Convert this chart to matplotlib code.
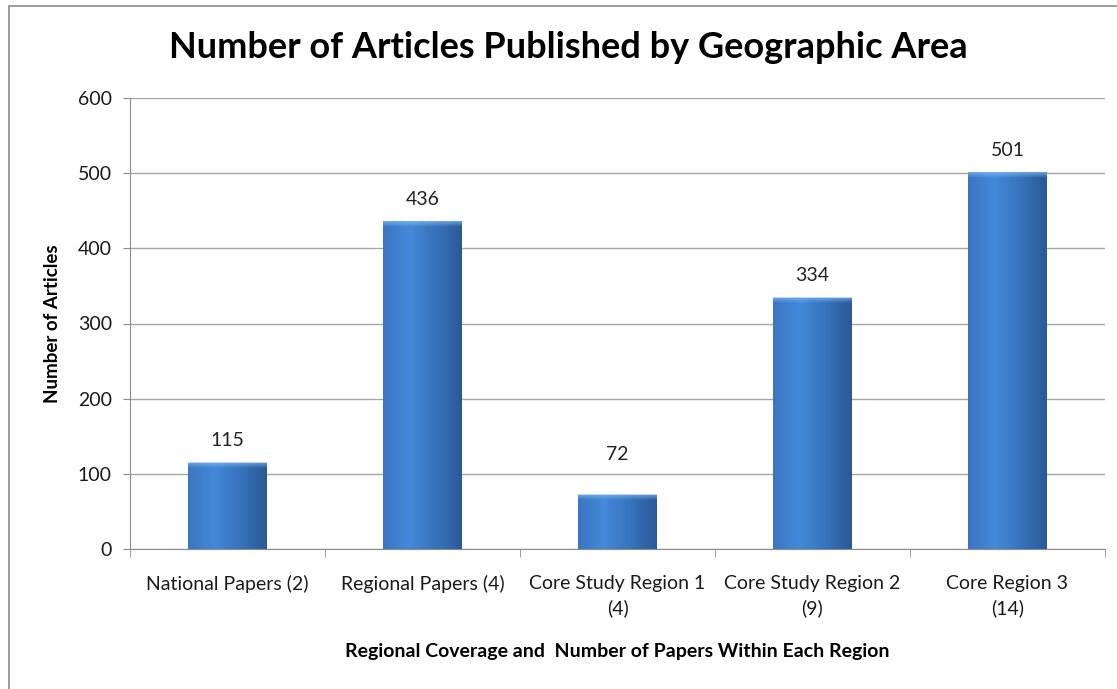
import numpy as np
import matplotlib.pyplot as plt
from matplotlib.patches import Rectangle
from matplotlib.colors import LinearSegmentedColormap

categories = ['National Papers (2)', 'Regional Papers (4)', 'Core Study Region 1\n(4)',
              'Core Study Region 2\n(9)', 'Core Region 3\n(14)']
articles = [115, 436, 72, 334, 501]

plt.rcParams['font.family'] = ['Lato', 'DejaVu Sans']

W, H = 1117, 689
fig = plt.figure(figsize=(W / 100, H / 100), dpi=100)
fig.patches.append(Rectangle((9 / W, -0.1), 1.2, 1 - 6 / H + 0.1, transform=fig.transFigure,
                             fill=False, edgecolor='#8c8c8c', linewidth=1.2))
ax = fig.add_axes([130 / W, 1 - 549 / H, (1105 - 130) / W, (549 - 98) / H])

x = np.arange(len(categories))
width = 0.405
cmap = LinearSegmentedColormap.from_list('bar', ['#3a76c2', '#4589da', '#3773bd', '#2a5996'])
grad = np.linspace(0, 1, 256).reshape(1, -1)
vgrad = np.linspace(1, 0, 64).reshape(-1, 1)
for i, (xi, v) in enumerate(zip(x, articles)):
    rect = Rectangle((xi - width / 2, 0), width, v, facecolor='none', edgecolor='none')
    ax.add_patch(rect)
    im = ax.imshow(grad, extent=(xi - width / 2, xi + width / 2, 0, v), aspect='auto',
                   cmap=cmap, zorder=2)
    im.set_clip_path(rect)
    # soft light top bevel
    ax.imshow(np.dstack([np.full((64, 1), 0.55), np.full((64, 1), 0.75),
                         np.full((64, 1), 0.96), vgrad * 0.7]),
              extent=(xi - width / 2, xi + width / 2, v - 7, v), aspect='auto', zorder=3)
    # the label of the short middle bar sits a bit higher in the original
    off = 42 if i == 2 else 18
    ax.text(xi, v + off, str(v), ha='center', va='bottom', fontsize=14, color='#222222')

ax.set_xlim(-0.5, len(categories) - 0.5)
ax.set_ylim(0, 600)
ax.set_yticks(range(0, 601, 100))
ax.set_xticks(x)
ax.set_xticklabels(categories, fontsize=14, color='#1a1a1a', linespacing=1.45)
ax.set_xticks(np.arange(-0.5, len(categories), 1), minor=True)
ax.tick_params(axis='x', which='major', length=0, pad=19)
ax.tick_params(axis='x', which='minor', length=6, color='#8c8c8c')
ax.tick_params(axis='y', length=5, color='#8c8c8c', labelsize=14, labelcolor='#1a1a1a', pad=8)
ax.grid(axis='y', color='#a6a6a6', linewidth=1)
ax.set_axisbelow(True)
for s in ['top', 'right']:
    ax.spines[s].set_visible(False)
for s in ['left', 'bottom']:
    ax.spines[s].set_color('#8c8c8c')

ax.set_ylabel('Number of Articles', fontsize=13.5, fontweight='bold', labelpad=12)
ax.set_xlabel('Regional Coverage and  Number of Papers Within Each Region', fontsize=14,
              fontweight='bold', labelpad=19)
fig.text(568 / W, 1 - 47 / H, 'Number of Articles Published by Geographic Area', ha='center',
         va='center', fontsize=26, fontweight='bold')

fig.savefig('out.png', dpi=100)
